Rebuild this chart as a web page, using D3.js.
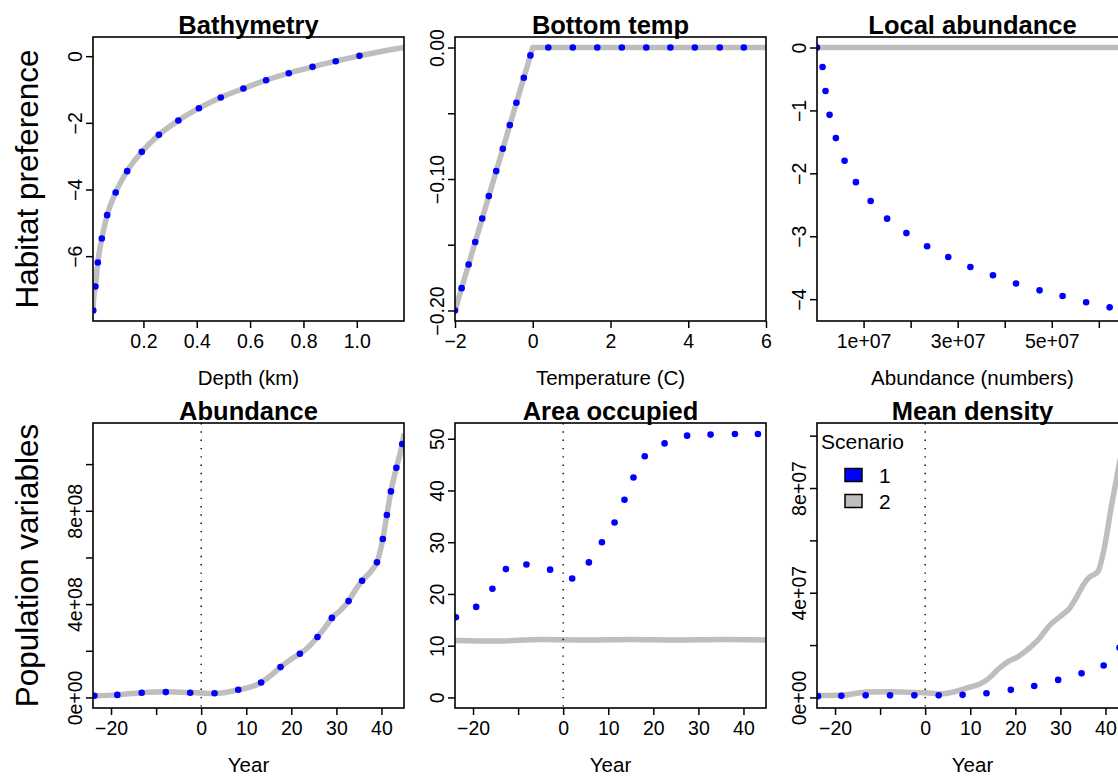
<!DOCTYPE html>
<html>
<head>
<meta charset="utf-8">
<script src="https://cdn.jsdelivr.net/npm/d3@7"></script>
<style>
  html, body { margin: 0; padding: 0; background: #fff; overflow: hidden; }
  svg { display: block; font-family: "Liberation Sans", Arial, Helvetica, sans-serif; }
</style>
</head>
<body>
<svg id="chart" width="1118" height="776"></svg>
<script>
// ---------------- DATA ----------------
// Bathymetry
const bathyLineDepth = [0.011, 0.014, 0.020, 0.029, 0.044, 0.064, 0.096, 0.139, 0.194, 0.258, 0.331, 0.408, 0.490, 0.575, 0.660, 0.745, 0.834, 0.921, 1.010, 1.090, 1.177];
const bathyLinePref  = [-7.63, -7.20, -6.91, -6.19, -5.47, -4.77, -4.09, -3.45, -2.87, -2.36, -1.93, -1.56, -1.24, -0.97, -0.72, -0.51, -0.32, -0.15, 0.01, 0.14, 0.26];
const bathyDotDepth  = [0.012, 0.020, 0.029, 0.044, 0.064, 0.096, 0.139, 0.194, 0.258, 0.331, 0.408, 0.490, 0.575, 0.660, 0.745, 0.834, 0.921, 1.010];
const bathyDotPref   = [-7.63, -6.91, -6.19, -5.47, -4.77, -4.09, -3.45, -2.87, -2.36, -1.93, -1.56, -1.24, -0.97, -0.72, -0.51, -0.32, -0.15, 0.01];
const bathyXTicks = [0.2, 0.4, 0.6, 0.8, 1.0];
const bathyXLabels = ["0.2", "0.4", "0.6", "0.8", "1.0"];
const bathyYTicks = [0, -2, -4, -6];
const bathyYLabels = ["0", "\u22122", "\u22124", "\u22126"];

// Bottom temp
const tempLineX = [-2, 0, 6];
const tempLineY = [-0.2, 0, 0];
const tempDotX = [-2, -1.83, -1.65, -1.48, -1.30, -1.13, -0.94, -0.77, -0.59, -0.42, -0.23, -0.06, 0.40, 1.03, 1.66, 2.29, 2.92, 3.54, 4.17, 4.81, 5.43];
const tempDotY = [-0.200, -0.183, -0.165, -0.148, -0.130, -0.113, -0.094, -0.077, -0.059, -0.042, -0.023, -0.006, 0, 0, 0, 0, 0, 0, 0, 0, 0];
const tempXTicks = [-2, 0, 2, 4, 6];
const tempXLabels = ["\u22122", "0", "2", "4", "6"];
const tempYTicks = [0, -0.05, -0.10, -0.15, -0.20];
const tempYLabels = ["0.00", "", "\u22120.10", "", "\u22120.20"];

// Local abundance
const localLineN = [0.1e6, 66.2e6];
const localLinePref = [0, 0];
const localDotN = [0.1e6, 1.28e6, 1.91e6, 2.77e6, 4.11e6, 5.96e6, 8.37e6, 11.5e6, 15.0e6, 19.1e6, 23.5e6, 28.0e6, 32.7e6, 37.5e6, 42.4e6, 47.4e6, 52.3e6, 57.3e6, 62.3e6];
const localDotPref = [0, -0.31, -0.69, -1.07, -1.44, -1.80, -2.14, -2.44, -2.72, -2.95, -3.16, -3.33, -3.49, -3.62, -3.75, -3.86, -3.95, -4.05, -4.13];
const localXTicks = [1e7, 2e7, 3e7, 4e7, 5e7, 6e7];
const localXLabels = ["1e+07", "", "3e+07", "", "5e+07", ""];
const localYTicks = [0, -1, -2, -3, -4];
const localYLabels = ["0", "\u22121", "\u22122", "\u22123", "\u22124"];

// Years (shared x axis of bottom row)
const yearTicks = [-20, -10, 0, 10, 20, 30, 40];
const yearLabels = ["\u221220", "", "0", "10", "20", "30", "40"];

// Abundance
const abundLineYear = [-24, -18.6, -13.2, -7.8, -2.4, 0, 3, 8.2, 11, 13.3, 15.5, 17.6, 19.8, 21.9, 24, 25.8, 27.5, 29.0, 31, 32.7, 34.2, 35.7, 37.9, 39.0, 40.3, 41.2, 42.1, 43.3, 44.6, 45];
const abundLineN    = [0.06e8, 0.11e8, 0.20e8, 0.24e8, 0.21e8, 0.19e8, 0.17e8, 0.32e8, 0.45e8, 0.64e8, 0.95e8, 1.30e8, 1.62e8, 1.87e8, 2.2e8, 2.59e8, 3.0e8, 3.41e8, 3.75e8, 4.13e8, 4.6e8, 5.00e8, 5.46e8, 5.79e8, 6.79e8, 7.82e8, 8.83e8, 9.84e8, 10.86e8, 11.31e8];
const abundDotYear = [-23.7, -18.6, -13.2, -7.85, -2.44, 2.96, 8.22, 13.3, 17.6, 21.9, 25.8, 29.0, 32.7, 35.7, 39.0, 40.3, 41.2, 42.1, 43.3, 44.6];
const abundDotN    = [0.07e8, 0.11e8, 0.20e8, 0.23e8, 0.20e8, 0.18e8, 0.33e8, 0.64e8, 1.30e8, 1.87e8, 2.59e8, 3.41e8, 4.13e8, 5.00e8, 5.79e8, 6.79e8, 7.82e8, 8.83e8, 9.84e8, 10.86e8];
const abundYTicks = [0, 2e8, 4e8, 6e8, 8e8, 10e8];
const abundYLabels = ["0e+00", "", "4e+08", "", "8e+08", ""];

// Area occupied
const areaLineYear = [-24, -15, -5, 5, 15, 25, 35, 45];
const areaLineVal  = [11.0, 10.9, 11.2, 11.1, 11.2, 11.1, 11.2, 11.1];
const areaDotYear = [-23.8, -19.3, -15.7, -12.7, -8.15, -2.9, 2.0, 5.7, 8.6, 11.4, 13.6, 15.6, 18.1, 22.5, 27.5, 32.7, 38.1, 43.2];
const areaDotVal  = [15.5, 17.5, 21.0, 24.8, 25.7, 24.7, 23.0, 26.1, 30.0, 33.8, 38.2, 42.5, 46.6, 49.1, 50.6, 50.8, 50.9, 50.9];
const areaYTicks = [0, 10, 20, 30, 40, 50];
const areaYLabels = ["0", "10", "20", "30", "40", "50"];

// Mean density
const densLineYear = [-24, -18, -13, -8, -3, 0, 3.5, 6, 9.4, 12, 13.9, 16.4, 18.3, 20.5, 22.5, 25.0, 27.9, 30, 32.0, 33.5, 35.3, 36.5, 38.3, 39.8, 41.3, 42.4, 43.1, 44, 45];
const densLineVal  = [0.07e7, 0.09e7, 0.21e7, 0.22e7, 0.19e7, 0.18e7, 0.14e7, 0.2e7, 0.37e7, 0.5e7, 0.70e7, 1.11e7, 1.36e7, 1.55e7, 1.8e7, 2.19e7, 2.80e7, 3.1e7, 3.40e7, 3.8e7, 4.36e7, 4.6e7, 4.80e7, 5.76e7, 7.29e7, 8.31e7, 8.95e7, 9.6e7, 10.08e7];
const densDotYear = [-23.8, -18.6, -13.2, -7.8, -2.4, 3.0, 8.3, 13.6, 19.0, 24.2, 29.5, 34.7, 39.6, 43.1];
const densDotVal  = [0.05e7, 0.06e7, 0.08e7, 0.08e7, 0.08e7, 0.08e7, 0.10e7, 0.16e7, 0.29e7, 0.44e7, 0.67e7, 0.92e7, 1.22e7, 1.90e7];
const densYTicks = [0, 2e7, 4e7, 6e7, 8e7, 10e7];
const densYLabels = ["0e+00", "", "4e+07", "", "8e+07", ""];

const scenarioNames = ["1", "2"];
const rowLabels = ["Habitat preference", "Population variables"];

// ---------------- LAYOUT / STYLE ----------------
const colLeft = [93, 455, 817];
const panelW = 311;
const rowTop = [37, 423];
const panelH = [284, 285];
const blue = "#0000FF", grey = "#BEBEBE";
const FONT = "'Liberation Sans', Arial, Helvetica, sans-serif";

const panels = [
  { title: "Bathymetry", xlab: "Depth (km)", col: 0, row: 0,
    xlim: [0.011, 1.177], ylim: [-7.63, 0.26],
    line: [bathyLineDepth, bathyLinePref], dots: [bathyDotDepth, bathyDotPref], curve: d3.curveMonotoneX,
    xt: bathyXTicks, xl: bathyXLabels, yt: bathyYTicks, yl: bathyYLabels },
  { title: "Bottom temp", xlab: "Temperature (C)", col: 1, row: 0,
    xlim: [-2, 6], ylim: [-0.2, 0],
    line: [tempLineX, tempLineY], dots: [tempDotX, tempDotY], curve: d3.curveLinear,
    xt: tempXTicks, xl: tempXLabels, yt: tempYTicks, yl: tempYLabels },
  { title: "Local abundance", xlab: "Abundance (numbers)", col: 2, row: 0,
    xlim: [0.1e6, 66.2e6], ylim: [-4.18, 0],
    line: [localLineN, localLinePref], dots: [localDotN, localDotPref], curve: d3.curveLinear,
    xt: localXTicks, xl: localXLabels, yt: localYTicks, yl: localYLabels },
  { title: "Abundance", xlab: "Year", col: 0, row: 1, vline: 0,
    xlim: [-24, 45], ylim: [0, 11.31e8],
    line: [abundLineYear, abundLineN], dots: [abundDotYear, abundDotN], curve: d3.curveMonotoneX,
    xt: yearTicks, xl: yearLabels, yt: abundYTicks, yl: abundYLabels },
  { title: "Area occupied", xlab: "Year", col: 1, row: 1, vline: 0,
    xlim: [-24, 45], ylim: [0, 51],
    line: [areaLineYear, areaLineVal], dots: [areaDotYear, areaDotVal], curve: d3.curveMonotoneX,
    xt: yearTicks, xl: yearLabels, yt: areaYTicks, yl: areaYLabels },
  { title: "Mean density", xlab: "Year", col: 2, row: 1, vline: 0, legend: true,
    xlim: [-24, 45], ylim: [0, 10.08e7],
    line: [densLineYear, densLineVal], dots: [densDotYear, densDotVal], curve: d3.curveMonotoneX,
    xt: yearTicks, xl: yearLabels, yt: densYTicks, yl: densYLabels }
];

const svg = d3.select("#chart");
const defs = svg.append("defs");

function pad(lim) { const d = (lim[1] - lim[0]) * 0.04; return [lim[0] - d, lim[1] + d]; }

panels.forEach((p, i) => {
  const L = colLeft[p.col], T = rowTop[p.row], w = panelW, h = panelH[p.row];
  const x = d3.scaleLinear().domain(p.xlim).range([L, L + w]);
  const y = d3.scaleLinear().domain(pad(p.ylim)).range([T + h, T]);
  const g = svg.append("g");

  defs.append("clipPath").attr("id", "clip" + i)
    .append("rect").attr("x", L).attr("y", T).attr("width", w).attr("height", h);
  const plot = g.append("g").attr("clip-path", `url(#clip${i})`);

  // scenario 2 line
  const lineData = p.line[0].map((v, k) => [v, p.line[1][k]]);
  plot.append("path").datum(lineData)
    .attr("fill", "none").attr("stroke", grey).attr("stroke-width", 5.5)
    .attr("stroke-linejoin", "round").attr("stroke-linecap", "butt")
    .attr("d", d3.line().x(d => x(d[0])).y(d => y(d[1])).curve(p.curve));

  // scenario 1 points
  const dotData = p.dots[0].map((v, k) => [v, p.dots[1][k]]);
  plot.selectAll("circle").data(dotData).join("circle")
    .attr("cx", d => x(d[0])).attr("cy", d => y(d[1])).attr("r", 3.3).attr("fill", blue);

  if (p.vline !== undefined) {
    plot.append("line").attr("x1", x(p.vline)).attr("x2", x(p.vline))
      .attr("y1", T).attr("y2", T + h)
      .attr("stroke", "#000").attr("stroke-width", 1.4).attr("stroke-dasharray", "1.4 6.9");
  }

  // axes
  const xa = g.append("g").attr("transform", `translate(0,${T + h})`)
    .call(d3.axisBottom(x).tickValues(p.xt).tickSize(7).tickSizeOuter(0)
      .tickFormat((d, k) => p.xl[k]));
  xa.select(".domain").remove();
  xa.selectAll(".tick line").attr("stroke", "#000").attr("stroke-width", 1.5);
  xa.selectAll(".tick text").attr("y", 27).attr("dy", null)
    .attr("fill", "#000").style("font-family", FONT).style("font-size", "19.5px");

  const ya = g.append("g").attr("transform", `translate(${L},0)`)
    .call(d3.axisLeft(y).tickValues(p.yt).tickSize(7).tickSizeOuter(0)
      .tickFormat((d, k) => p.yl[k]));
  ya.select(".domain").remove();
  ya.selectAll(".tick line").attr("stroke", "#000").attr("stroke-width", 1.5);
  ya.selectAll(".tick text").attr("x", null).attr("dy", null)
    .attr("text-anchor", "middle").attr("transform", "translate(-11,0) rotate(-90)")
    .attr("fill", "#000").style("font-family", FONT).style("font-size", "19.5px");

  // box
  g.append("rect").attr("x", L).attr("y", T).attr("width", w).attr("height", h)
    .attr("fill", "none").attr("stroke", "#000").attr("stroke-width", 1.6);

  // title
  g.append("text").attr("x", L + w / 2).attr("y", T - 3).attr("text-anchor", "middle")
    .style("font-family", FONT).style("font-size", "25.5px").style("font-weight", "bold")
    .text(p.title);

  // x label
  g.append("text").attr("x", L + w / 2).attr("y", T + h + 64).attr("text-anchor", "middle")
    .style("font-family", FONT).style("font-size", "20.5px").text(p.xlab);

  if (p.legend) {
    const lg = g.append("g");
    lg.append("text").attr("x", L + 4).attr("y", T + 26)
      .style("font-family", FONT).style("font-size", "21px").text("Scenario");
    [blue, grey].forEach((c, k) => {
      lg.append("rect").attr("x", L + 28).attr("y", T + 45.5 + k * 26).attr("width", 17).attr("height", 13)
        .attr("fill", c).attr("stroke", "#000").attr("stroke-width", 1.5);
      lg.append("text").attr("x", L + 62).attr("y", T + 59.5 + k * 26)
        .style("font-family", FONT).style("font-size", "21px").text(scenarioNames[k]);
    });
  }
});

// row labels
rowLabels.forEach((t, r) => {
  const cy = rowTop[r] + panelH[r] / 2;
  svg.append("text").attr("transform", `translate(38,${cy}) rotate(-90)`)
    .attr("text-anchor", "middle")
    .style("font-family", FONT).style("font-size", "31.5px").text(t);
});
</script>
</body>
</html>
